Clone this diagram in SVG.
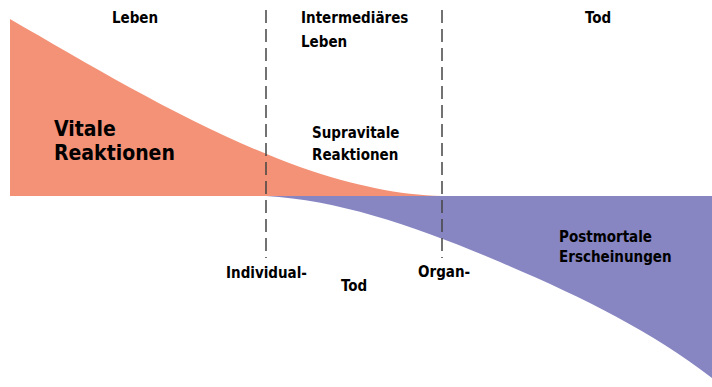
<svg xmlns="http://www.w3.org/2000/svg" width="712" height="387" viewBox="0 0 712 387">
<style>
text{font-family:"DejaVu Sans Condensed","DejaVu Sans",sans-serif;font-weight:bold;fill:#000;font-size:15px}
.big{font-size:21px}
.dash{stroke:#444;stroke-width:1.5;stroke-dasharray:13 6;fill:none}
</style>
<rect width="712" height="387" fill="#fff"/>
<g id="areas">
<path id="vital" d="M10,19 C100,71 200,131 300,167 C355,186 400,195 442,196 L10,196 Z" fill="#F39277"/>
<path id="postmortal" d="M266,196 C340,200 420,228 500,262 C580,296 650,330 712,378 L712,196 Z" fill="#8786C2"/>
</g>
<g id="connectors">
<line class="dash" x1="266" y1="10" x2="266" y2="258"/>
<line class="dash" x1="442" y1="10" x2="442" y2="258"/>
</g>
<g id="labels">
<text x="135" y="23" text-anchor="middle">Leben</text>
<text x="301" y="23">Intermediäres</text>
<text x="301" y="47">Leben</text>
<text x="585" y="23">Tod</text>
<text class="big" x="54" y="136">Vitale</text>
<text class="big" x="54" y="160">Reaktionen</text>
<text x="312" y="138">Supravitale</text>
<text x="312" y="160">Reaktionen</text>
<text x="559" y="242">Postmortale</text>
<text x="559" y="262">Erscheinungen</text>
<text x="226" y="278">Individual-</text>
<text x="341" y="291">Tod</text>
<text x="418" y="277">Organ-</text>
</g>
</svg>
